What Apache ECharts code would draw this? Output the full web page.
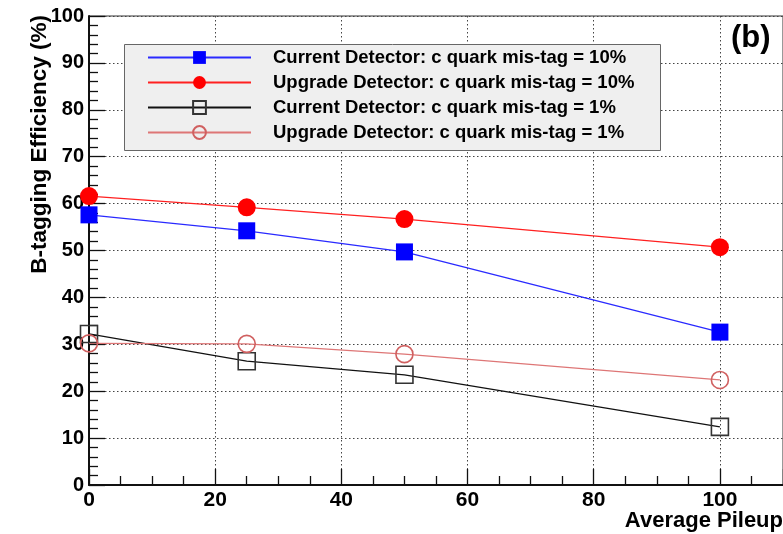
<!DOCTYPE html>
<html>
<head>
<meta charset="utf-8">
<script src="https://cdn.jsdelivr.net/npm/echarts@6/dist/echarts.min.js"></script>
<style>
  html, body { margin: 0; padding: 0; background: #fff; }
  #chart { width: 783px; height: 534px; }
</style>
</head>
<body>
<div id="chart"></div>
<script>
// Average pileup values at which the tagging was evaluated
const pileup = [0, 25, 50, 100];

// B-tagging efficiency (%) for each detector / mis-tag working point
const currentMistag10 = [57.6, 54.2, 49.7, 32.6];
const upgradeMistag10 = [61.6, 59.2, 56.7, 50.7];
const currentMistag1  = [32.2, 26.4, 23.5, 12.4];
const upgradeMistag1  = [30.2, 30.1, 27.9, 22.4];

const seriesNames = [
  'Current Detector: c quark mis-tag = 10%',
  'Upgrade Detector: c quark mis-tag = 10%',
  'Current Detector: c quark mis-tag = 1%',
  'Upgrade Detector: c quark mis-tag = 1%'
];

const yTitle = 'B-tagging Efficiency (%)';
const xTitle = 'Average Pileup';
const panelTag = '(b)';

const FONT = '"Liberation Sans", Arial, Helvetica, sans-serif';

function pairs(xs, ys) {
  return xs.map((x, i) => [x, ys[i]]);
}

const chart = echarts.init(document.getElementById('chart'), null, { renderer: 'canvas' });

const lineSeries = (name, values, color, symbol, size, filled, markColor) => ({
  name: name,
  type: 'line',
  data: pairs(pileup, values),
  symbol: symbol,
  symbolSize: size,
  showAllSymbol: true,
  lineStyle: { color: color, width: 1.3 },
  itemStyle: filled
    ? { color: markColor || color, borderWidth: 0 }
    : { color: 'rgba(255,255,255,0)', borderColor: markColor || color, borderWidth: 1.6 },
  emphasis: { disabled: true },
  z: 3
});

chart.setOption({
  animation: false,
  backgroundColor: '#ffffff',
  grid: {
    left: 89, top: 16, bottom: 49, right: -3,
    show: true, borderColor: '#333', borderWidth: 1, backgroundColor: 'transparent'
  },
  xAxis: {
    type: 'value',
    min: 0, max: 110, interval: 20,
    axisLine: { show: true, lineStyle: { color: '#111', width: 2 } },
    axisTick: { show: true, inside: true, length: 16, lineStyle: { color: '#111', width: 1.3 } },
    minorTick: { show: true, splitNumber: 4, length: 9, lineStyle: { color: '#111', width: 1.3 } },
    splitLine: { show: true, lineStyle: { color: '#444', type: [1.5, 2.5], width: 1 } },
    axisLabel: {
      color: '#000', fontFamily: FONT, fontWeight: 'bold', fontSize: 21, margin: 5,
      showMaxLabel: false,
      formatter: v => (v > 100 ? '' : String(v))
    }
  },
  yAxis: {
    type: 'value',
    min: 0, max: 100, interval: 10,
    axisLine: { show: true, lineStyle: { color: '#111', width: 2 } },
    axisTick: { show: true, inside: true, length: 16, lineStyle: { color: '#111', width: 1.3 } },
    minorTick: { show: true, splitNumber: 5, length: 9, lineStyle: { color: '#111', width: 1.3 } },
    splitLine: { show: true, lineStyle: { color: '#444', type: [1.5, 2.5], width: 1 } },
    axisLabel: {
      color: '#000', fontFamily: FONT, fontWeight: 'bold', fontSize: 20, margin: 5
    }
  },
  legend: {
    data: seriesNames,
    orient: 'vertical',
    left: 142, top: 43,
    itemWidth: 103, itemHeight: 16, itemGap: 6,
    selectedMode: false,
    z: 10,
    textStyle: {
      color: '#000', fontFamily: FONT, fontWeight: 'bold', fontSize: 18.5,
      padding: [0, 0, 0, 17]
    }
  },
  graphic: [
    {
      type: 'rect', z: 5, silent: true,
      shape: { x: 124.5, y: 44.5, width: 536, height: 106 },
      style: { fill: '#efefef', stroke: '#666', lineWidth: 1 }
    },
    {
      type: 'text', z: 10, silent: true,
      x: 40, y: 15, rotation: Math.PI / 2,
      style: {
        text: yTitle, x: 0, y: 0,
        textAlign: 'right', textVerticalAlign: 'middle',
        fill: '#000', font: 'bold 22.5px ' + FONT
      }
    },
    {
      type: 'text', z: 10, silent: true,
      x: 783, y: 521,
      style: {
        text: xTitle, x: 0, y: 0,
        textAlign: 'right', textVerticalAlign: 'middle',
        fill: '#000', font: 'bold 22px ' + FONT
      }
    },
    {
      type: 'text', z: 10, silent: true,
      x: 731, y: 38,
      style: {
        text: panelTag, x: 0, y: 0,
        textAlign: 'left', textVerticalAlign: 'middle',
        fill: '#000', font: 'bold 31px ' + FONT
      }
    }
  ],
  series: [
    lineSeries(seriesNames[0], currentMistag10, '#2a2aff', 'rect', 17, true, '#0000ff'),
    lineSeries(seriesNames[1], upgradeMistag10, '#ff2020', 'circle', 18, true, '#ff0000'),
    lineSeries(seriesNames[2], currentMistag1, '#111111', 'rect', 17, false, '#333333'),
    lineSeries(seriesNames[3], upgradeMistag1, '#de7676', 'circle', 17, false, '#d06060')
  ]
});
</script>
</body>
</html>
